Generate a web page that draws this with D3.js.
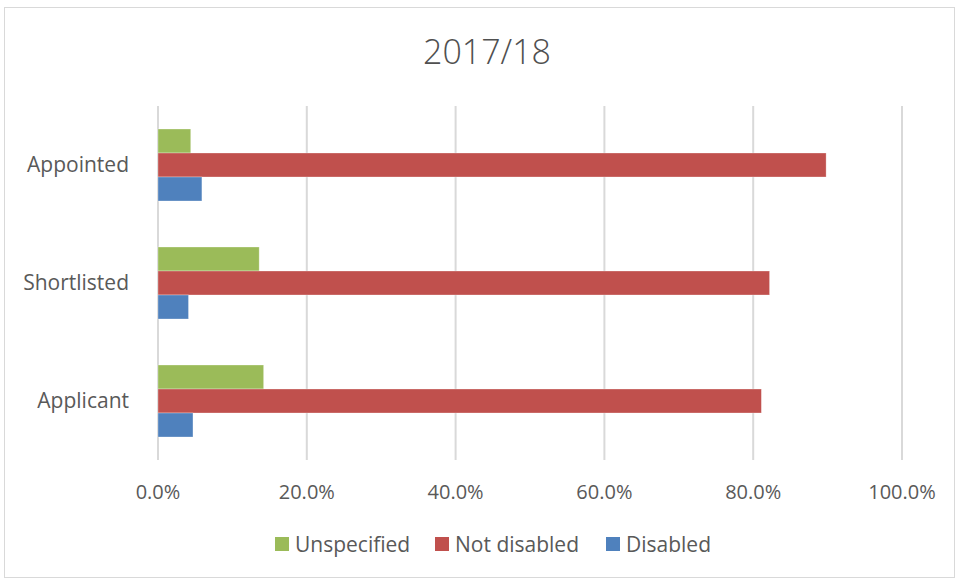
<!DOCTYPE html>
<html>
<head>
<meta charset="utf-8">
<script src="https://cdn.jsdelivr.net/npm/d3@7"></script>
<style>
  body { margin: 0; background: #fff; }
  svg { font-family: "Open Sans", Lato, sans-serif; }
</style>
</head>
<body>
<svg width="959" height="581"></svg>
<script>
// categories top to bottom
var categories = ["Appointed", "Shortlisted", "Applicant"];
var seriesNames = ["Unspecified", "Not disabled", "Disabled"];
var seriesColors = ["#9bbb59", "#c0504d", "#4f81bd"];

// percentages per category, in category order
var unspecified = [4.4, 13.6, 14.2];
var notDisabled = [89.8, 82.2, 81.1];
var disabled = [5.9, 4.1, 4.7];

var tickValues = [0, 20, 40, 60, 80, 100];

var values = [unspecified, notDisabled, disabled];

var svg = d3.select("svg");

// chart border
svg.append("rect")
  .attr("x", 4.5).attr("y", 7.5)
  .attr("width", 950).attr("height", 570)
  .attr("fill", "#fff")
  .attr("stroke", "#d9d9d9");

svg.append("text")
  .attr("x", 487).attr("y", 64)
  .attr("text-anchor", "middle")
  .style("font-size", "34px")
  .style("font-weight", 300)
  .style("fill", "#505050")
  .text("2017/18");

var x = d3.scaleLinear().domain([0, 100]).range([158, 902]);
var y = d3.scaleBand().domain(categories).range([106, 460]);
var sub = d3.scaleBand().domain(seriesNames).range([0, 72]);

// gridlines
svg.append("g")
  .selectAll("line")
  .data(tickValues)
  .enter().append("line")
  .attr("x1", function(d) { return x(d); })
  .attr("x2", function(d) { return x(d); })
  .attr("y1", 106).attr("y2", 460)
  .attr("stroke", "#d9d9d9")
  .attr("stroke-width", 2);

// bars
seriesNames.forEach(function(s, i) {
  svg.append("g")
    .selectAll("rect")
    .data(values[i])
    .enter().append("rect")
    .attr("x", x(0))
    .attr("y", function(d, j) {
      return y(categories[j]) + y.bandwidth() / 2 - 36 + sub(s);
    })
    .attr("width", function(d) { return x(d) - x(0); })
    .attr("height", sub.bandwidth())
    .attr("fill", seriesColors[i])
    .attr("stroke", "#fff")
    .attr("stroke-opacity", 0.4)
    .attr("stroke-width", 0.75);
});

// x tick labels
svg.append("g")
  .selectAll("text")
  .data(tickValues)
  .enter().append("text")
  .attr("x", function(d) { return x(d); })
  .attr("y", 499)
  .attr("text-anchor", "middle")
  .style("font-size", "20px")
  .style("fill", "#595959")
  .text(function(d) { return d.toFixed(1) + "%"; });

// category labels
svg.append("g")
  .selectAll("text")
  .data(categories)
  .enter().append("text")
  .attr("x", 129)
  .attr("y", function(d) { return y(d) + y.bandwidth() / 2 + 7; })
  .attr("text-anchor", "end")
  .style("font-size", "21px")
  .style("fill", "#595959")
  .text(function(d) { return d; });

// legend
var legendX = [275, 435, 606];
var legend = svg.append("g")
  .selectAll("g")
  .data(seriesNames)
  .enter().append("g")
  .attr("transform", function(d, i) { return "translate(" + legendX[i] + ",537)"; });

legend.append("rect")
  .attr("width", 14).attr("height", 14)
  .attr("fill", function(d, i) { return seriesColors[i]; });

legend.append("text")
  .attr("x", 20).attr("y", 14.5)
  .style("font-size", "21px")
  .style("fill", "#595959")
  .text(function(d) { return d; });
</script>
</body>
</html>
